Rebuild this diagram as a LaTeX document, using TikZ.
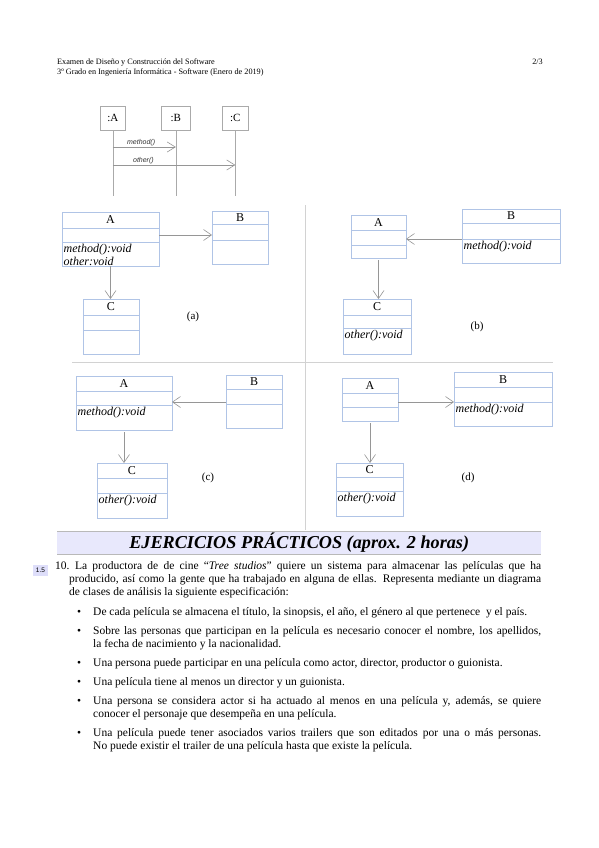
\documentclass[tikz,border=0pt]{standalone}
\usepackage{fontspec}
\setmainfont{Liberation Serif}
\setsansfont{Liberation Sans}
\usetikzlibrary{arrows.meta,positioning,calc}
\definecolor{clsblue}{RGB}{176,196,230}
\definecolor{flechagris}{RGB}{150,150,150}
\definecolor{seqgris}{RGB}{170,170,170}
\definecolor{divgris}{RGB}{210,210,210}
\definecolor{bandafondo}{RGB}{232,232,252}
\definecolor{bandalinea}{RGB}{185,185,185}
\definecolor{notafondo}{RGB}{222,222,250}
\tikzset{
  clsbox/.style={draw=clsblue,line width=0.7pt,inner sep=1pt,outer sep=0pt,font=\fontsize{12}{13}\selectfont},
  optext/.style={inner sep=1.5pt,align=left,font=\fontsize{12}{13}\selectfont\itshape},
  asoc/.style={flechagris,line width=0.6pt,-{Straight Barb[length=8pt,width=11pt,line width=0.6pt]}},
  seqbox/.style={draw=seqgris,line width=0.6pt,minimum height=24,inner sep=1pt,anchor=north west,font=\fontsize{11}{12}\selectfont},
  vida/.style={seqgris,line width=0.6pt},
  msg/.style={flechagris,line width=0.6pt,-{Straight Barb[length=8pt,width=10pt,line width=0.6pt]}},
  msglab/.style={inner sep=1pt,text=black!80,font=\sffamily\itshape\fontsize{7}{8}\selectfont},
  divisor/.style={divgris,line width=0.8pt},
  etiq/.style={font=\fontsize{11}{12}\selectfont},
  cab/.style={inner sep=0pt,font=\fontsize{8.2}{10}\selectfont},
  banda/.style={fill=bandafondo,minimum width=484,minimum height=23,anchor=north west,inner sep=0pt,
    font=\fontsize{18.2}{20}\selectfont\bfseries\itshape},
  nota/.style={fill=notafondo,minimum width=15,minimum height=11,inner sep=0pt,font=\sffamily\fontsize{6.5}{7}\selectfont},
  cuerpo/.style={inner sep=0pt,anchor=base west,align=justify,font=\fontsize{11.5}{13}\selectfont},
  vineta/.style={inner sep=0pt,anchor=base west,font=\fontsize{11.5}{13}\selectfont},
}
% clase UML: nombre, x, y, ancho, alturas de los tres compartimentos, titulo, operaciones
\newcommand{\umlclase}[9]{%
  \node[clsbox,minimum width=#4,minimum height=#5,anchor=north west] (#1) at (#2,#3) {#8};
  \node[clsbox,minimum width=#4,minimum height=#6,anchor=north] (#1-at) at (#1.south) {};
  \node[clsbox,minimum width=#4,minimum height=#7,anchor=north] (#1-op) at (#1-at.south) {};
  \node[optext,anchor=north west] (#1-tx) at (#1-op.north west) {#9};
}

\begin{document}
\begin{tikzpicture}[x=1pt,y=-1pt]
  \path[use as bounding box,fill=white] (0,0) rectangle (599,848);
  % cabecera
  \node[cab,anchor=base west] (cab1) at (57,65) {Examen de Diseño y Construcción del Software};
  \node[cab,anchor=base west] (cab2) at (57,75) {3º Grado en Ingeniería Informática - Software (Enero de 2019)};
  \node[cab,anchor=base east] (pag) at (543,65) {2/3};
  % diagrama de secuencia
  \node[seqbox,minimum width=25] (sA) at (100,106) {:A};
  \node[seqbox,minimum width=29] (sB) at (161,106) {:B};
  \node[seqbox,minimum width=26] (sC) at (222,106) {:C};
  \coordinate (finA) at (sA.south |- 0,196);
  \coordinate (finB) at (sB.south |- 0,196);
  \coordinate (finC) at (sC.south |- 0,196);
  \draw[vida] (sA) -- (finA);
  \draw[vida] (sB) -- (finB);
  \draw[vida] (sC) -- (finC);
  \coordinate (m1a) at (sA.south |- 0,147);
  \coordinate (m1b) at (sB.south |- 0,147);
  \coordinate (m2a) at (sA.south |- 0,165);
  \coordinate (m2b) at (sC.south |- 0,165);
  \draw[msg] (m1a) -- node[above,msglab,pos=0.45]{method()} (m1b);
  \draw[msg] (m2a) -- node[above,msglab,pos=0.25]{other()} (m2b);
  % separadores
  \draw[divisor] (305,205) -- (305,530);
  \draw[divisor] (72,362) -- (553,362);
  % (a)
  \umlclase{aA}{62}{212}{97}{16}{14}{24}{A}{method():void\\other:void}
  \umlclase{aB}{212}{211}{56}{13}{16}{24}{B}{}
  \umlclase{aC}{83}{299}{56}{16}{15}{24}{C}{}
  \draw[asoc] (aA-at.east) -- (aA-at.east -| aB.west);
  \draw[asoc] (aA-op.south) -- (aA-op.south |- aC.north);
  \node[etiq] (la) at (193,317) {(a)};
  % (b)
  \umlclase{bA}{351}{215}{55}{15}{15}{13}{A}{}
  \umlclase{bB}{462}{209}{98}{14}{16}{24}{B}{method():void}
  \umlclase{bC}{343}{299}{68}{16}{13}{26}{C}{other():void}
  \draw[asoc] (bB-op.north west) -- (bB-op.north west -| bA.east);
  \draw[asoc,shorten <=2pt] (bA-op.south) -- (bA-op.south |- bC.north);
  \node[etiq] (lb) at (477,327) {(b)};
  % (c)
  \umlclase{cA}{76}{376}{96}{15}{14}{25}{A}{method():void}
  \umlclase{cB}{226}{375}{56}{14}{15}{24}{B}{}
  \umlclase{cC}{97}{463}{70}{15}{15}{25}{C}{other():void}
  \draw[asoc] ([yshift=2pt]cB-at.south west) -- ([yshift=2pt]cB-at.south west -| cA.east);
  \draw[asoc,shorten <=2pt] (cA-op.south) -- (cA-op.south |- cC.north);
  \node[etiq] (lc) at (208,478) {(c)};
  % (d)
  \umlclase{dA}{342}{378}{56}{15}{14}{14}{A}{}
  \umlclase{dB}{454}{372}{98}{15}{15}{24}{B}{method():void}
  \umlclase{dC}{336}{463}{67}{14}{14}{25}{C}{other():void}
  \draw[asoc] (dA-at.east |- dB-op.north west) -- (dB-op.north west);
  \draw[asoc,shorten <=2pt] (dA-op.south) -- (dA-op.south |- dC.north);
  \node[etiq] (ld) at (468,478) {(d)};
  % titulo
  \node[banda] (tit) at (57,531) {EJERCICIOS PRÁCTICOS (aprox. 2 horas)};
  \draw[bandalinea,line width=0.8pt] (tit.north west) -- (tit.north east);
  \draw[bandalinea,line width=0.8pt] (tit.south west) -- (tit.south east);
  % enunciado
  \node[nota] (pts) at (40.5,570) {1.5};
  \node[cuerpo,text width=486] (p10) at (55,569) {\leftskip=14pt\hskip-14pt\makebox[20pt][l]{10.}La productora de de cine “\textit{Tree studios}” quiere un sistema para almacenar las películas que ha\linebreak producido, así como la gente que ha trabajado en alguna de ellas. Representa mediante un diagrama\linebreak de clases de análisis la siguiente especificación:\par};
  \node[vineta] (v1) at (77,615) {\textbullet};
  \node[cuerpo,text width=448] (b1) at (93,615) {De cada película se almacena el título, la sinopsis, el año, el género al que pertenece \ y el país.};
  \node[vineta] (v2) at (77,634) {\textbullet};
  \node[cuerpo,text width=448] (b2) at (93,634) {Sobre las personas que participan en la película es necesario conocer el nombre, los apellidos,\linebreak la fecha de nacimiento y la nacionalidad.};
  \node[vineta] (v3) at (77,666) {\textbullet};
  \node[cuerpo,text width=448] (b3) at (93,666) {Una persona puede participar en una película como actor, director, productor o guionista.};
  \node[vineta] (v4) at (77,685) {\textbullet};
  \node[cuerpo,text width=448] (b4) at (93,685) {Una película tiene al menos un director y un guionista.};
  \node[vineta] (v5) at (77,704) {\textbullet};
  \node[cuerpo,text width=448] (b5) at (93,704) {Una persona se considera actor si ha actuado al menos en una película y, además, se quiere\linebreak conocer el personaje que desempeña en una película.};
  \node[vineta] (v6) at (77,736) {\textbullet};
  \node[cuerpo,text width=448] (b6) at (93,736) {Una película puede tener asociados varios trailers que son editados por una o más personas.\linebreak No puede existir el trailer de una película hasta que existe la película.};
\end{tikzpicture}
\end{document}
